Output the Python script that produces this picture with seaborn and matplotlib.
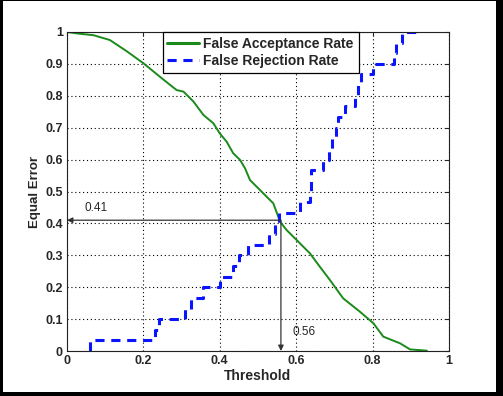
import matplotlib
matplotlib.use("Agg")
import matplotlib.pyplot as plt
import matplotlib.patches as patches
import seaborn as sns
import pandas as pd

# False acceptance rate
far_t = [0.0, 0.03, 0.069, 0.112, 0.156, 0.2, 0.243, 0.27, 0.287, 0.305, 0.331,
         0.357, 0.383, 0.40, 0.418, 0.435, 0.453, 0.466, 0.479, 0.514, 0.54,
         0.558, 0.575, 0.601, 0.636, 0.662, 0.688, 0.723, 0.767, 0.802, 0.828,
         0.872, 0.898, 0.942]
far_v = [1.0, 0.995, 0.99, 0.975, 0.94, 0.902, 0.86, 0.834, 0.818, 0.813, 0.782,
         0.74, 0.714, 0.682, 0.656, 0.62, 0.599, 0.573, 0.536, 0.494, 0.463,
         0.405, 0.379, 0.348, 0.306, 0.264, 0.223, 0.165, 0.123, 0.087, 0.045,
         0.024, 0.005, 0.001]

# False rejection rate, step function
frr_t = [0.06, 0.06, 0.23, 0.24, 0.31, 0.325, 0.355, 0.40, 0.435, 0.45, 0.475,
         0.53, 0.545, 0.555, 0.61, 0.636, 0.638, 0.64, 0.67, 0.685, 0.695,
         0.703, 0.71, 0.728, 0.755, 0.762, 0.77, 0.80, 0.856, 0.862, 0.878, 0.93]
frr_v = [0.0, 0.033, 0.067, 0.1, 0.133, 0.167, 0.2, 0.233, 0.267, 0.3, 0.333,
         0.367, 0.4, 0.433, 0.467, 0.5, 0.533, 0.567, 0.6, 0.633, 0.667,
         0.7, 0.733, 0.767, 0.8, 0.833, 0.867, 0.9, 0.933, 0.967, 1.0, 1.0]

eer_t = 0.56
eer_v = 0.41

far = pd.DataFrame({"t": far_t, "v": far_v})
frr = pd.DataFrame({"t": frr_t, "v": frr_v})

sns.set_style("white")
plt.rcParams["font.family"] = ["Liberation Sans", "DejaVu Sans"]

fig = plt.figure(figsize=(5.03, 3.96), dpi=100, facecolor="black")
W, H = 503, 396
fig.patches.append(patches.Rectangle((3 / W, (H - 392) / H), (496 - 3) / W, (392 - 1) / H,
                                     transform=fig.transFigure, facecolor="white",
                                     edgecolor="none", zorder=-10))
ax = fig.add_axes([67 / W, (H - 351) / H, (449 - 67) / W, (351 - 32) / H])

sns.lineplot(data=far, x="t", y="v", ax=ax, color="#1a8a1a", linewidth=1.4,
             label="False Acceptance Rate", estimator=None, sort=False)
sns.lineplot(data=frr, x="t", y="v", ax=ax, color="#0a14ff", linewidth=2.2,
             linestyle=(0, (3, 2.2)), drawstyle="steps-post",
             label="False Rejection Rate", estimator=None, sort=False)

# EER arrows
ax.annotate("", xy=(0, eer_v), xytext=(eer_t, eer_v),
            arrowprops=dict(arrowstyle="-|>", color="#333333", lw=0.9,
                            mutation_scale=8, shrinkA=0, shrinkB=0))
ax.annotate("", xy=(eer_t, 0), xytext=(eer_t, eer_v),
            arrowprops=dict(arrowstyle="-|>", color="#333333", lw=0.9,
                            mutation_scale=8, shrinkA=0, shrinkB=0))
ax.text(0.047, eer_v + 0.02, "0.41", fontsize=8.5, va="bottom")
ax.text(0.59, 0.04, "0.56", fontsize=8.5, va="bottom")

ax.set_xlim(0, 1)
ax.set_ylim(0, 1)
ax.set_xticks([0, 0.2, 0.4, 0.6, 0.8, 1])
ax.set_xticklabels(["0", "0.2", "0.4", "0.6", "0.8", "1"])
ax.set_yticks([i / 10 for i in range(11)])
ax.set_yticklabels(["0"] + [f"0.{i}" for i in range(1, 10)] + ["1"])
ax.tick_params(direction="in", length=3, top=True, right=True,
               labelsize=9, pad=3)
for lab in ax.get_xticklabels() + ax.get_yticklabels():
    lab.set_fontweight("bold")
ax.grid(True, linestyle=(0, (1, 2.5)), color="black", linewidth=0.8)
for s in ax.spines.values():
    s.set_color("#222222")
    s.set_linewidth(0.8)

ax.set_xlabel("Threshold", fontsize=10, fontweight="bold", labelpad=1)
ax.set_ylabel("Equal Error", fontsize=9.5, fontweight="bold", labelpad=3)

leg = ax.legend(loc="upper left", bbox_to_anchor=(0.25, 1.0), borderaxespad=0,
                fancybox=False, framealpha=1, edgecolor="black",
                prop={"weight": "bold", "size": 10}, handlelength=2.3,
                borderpad=0.35, labelspacing=0.2, handletextpad=0.3)
leg.get_frame().set_linewidth(0.9)
leg.get_lines()[0].set_linewidth(2.2)

fig.savefig("out.png", dpi=100, facecolor=fig.get_facecolor())
